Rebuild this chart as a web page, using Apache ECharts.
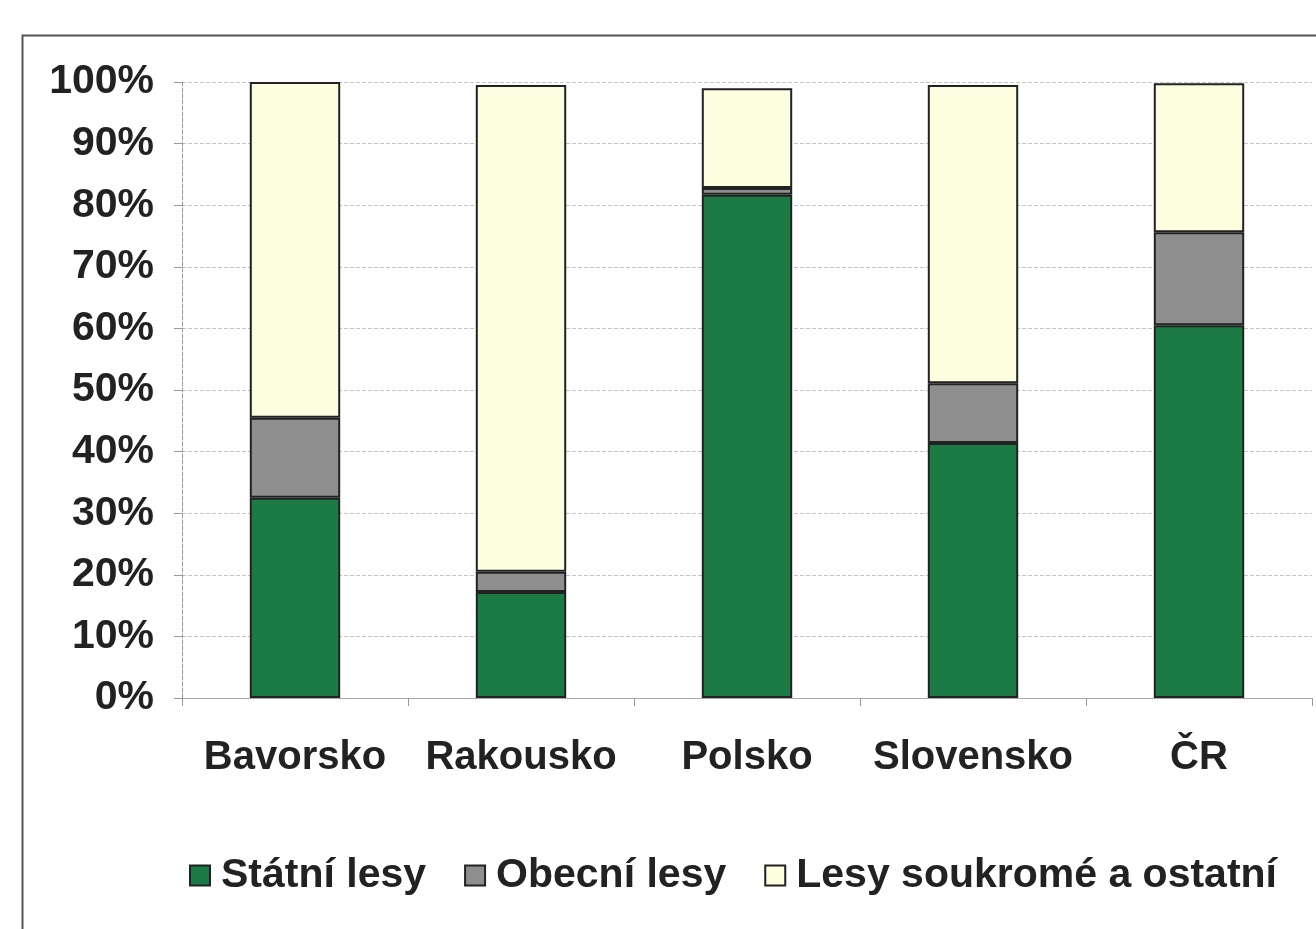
<!DOCTYPE html>
<html><head><meta charset="utf-8">
<script src="https://cdn.jsdelivr.net/npm/echarts@6/dist/echarts.min.js"></script>
<style>html,body{margin:0;padding:0;background:#fff;}#c{width:1316px;height:929px;}</style>
</head><body><div id="c"></div>
<script>
const categories = ['Bavorsko', 'Rakousko', 'Polsko', 'Slovensko', 'ČR'];
const seriesNames = ['Státní lesy', 'Obecní lesy', 'Lesy soukromé a ostatní'];
const statni = [32.5, 17.2, 81.7, 41.4, 60.5];
const obecni = [13.0, 3.3, 1.1, 9.7, 15.1];
const soukrome = [54.5, 79.0, 16.2, 48.4, 24.2];
const yTicks = [0, 10, 20, 30, 40, 50, 60, 70, 80, 90, 100];

const chart = echarts.init(document.getElementById('c'));
const font = 'Liberation Sans, Arial, sans-serif';
const colors = ['#1c7a44', '#8e8e8e', '#fdfde0'];
const data = [statni, obecni, soukrome];
chart.setOption({
  animation: false,
  backgroundColor: '#fff',
  graphic: [{
    type: 'rect', left: 20, top: 33, z: -1,
    shape: { width: 1400, height: 1000 },
    style: { fill: 'none', stroke: '#555', lineWidth: 2 }
  }],
  grid: { left: 182, right: 4, top: 82, bottom: 231, containLabel: false },
  legend: {
    left: 184, top: 850,
    itemWidth: 20, itemHeight: 20, itemGap: 38,
    icon: 'rect',
    textStyle: { fontFamily: font, fontWeight: 'bold', fontSize: 41, color: '#222', padding: [0, 0, 0, 6] },
    data: seriesNames
  },
  xAxis: {
    type: 'category', data: categories,
    axisLine: { show: true, lineStyle: { color: '#aaa', width: 1 } },
    axisTick: { show: true, length: 8, interval: 0, lineStyle: { color: '#999' } },
    axisLabel: { interval: 0, fontFamily: font, fontWeight: 'bold', fontSize: 40, color: '#222', margin: 40 }
  },
  yAxis: {
    type: 'value', min: 0, max: 100, interval: 10,
    axisLine: { show: true, lineStyle: { color: '#999', type: 'dashed', width: 1 } },
    axisTick: { show: true, length: 8, lineStyle: { color: '#999' } },
    splitLine: { show: true, lineStyle: { color: '#c4c4c4', type: 'dashed', width: 1 } },
    axisLabel: {
      fontFamily: font, fontWeight: 'bold', fontSize: 41, color: '#222', margin: 28,
      padding: [6, 0, 0, 0],
      formatter: v => yTicks.includes(v) ? v + '%' : ''
    }
  },
  series: seriesNames.map((n, i) => ({
    name: n, type: 'bar', stack: 'total', barWidth: '40%',
    data: data[i],
    itemStyle: { color: colors[i], borderColor: '#222', borderWidth: 2 }
  }))
});
</script></body></html>
